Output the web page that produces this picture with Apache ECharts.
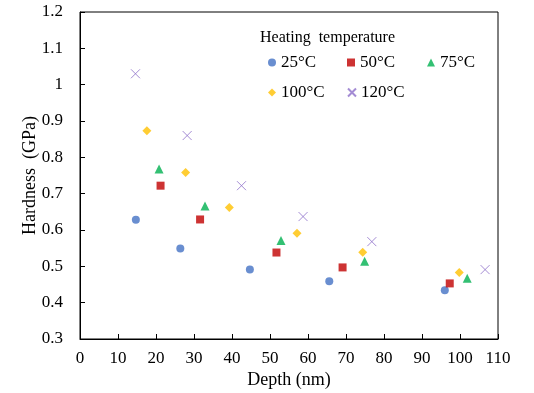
<!DOCTYPE html>
<html><head><meta charset="utf-8">
<script src="https://cdn.jsdelivr.net/npm/echarts@6/dist/echarts.min.js"></script>
<style>html,body{margin:0;padding:0;background:#fff}#c{width:534px;height:393px}</style>
</head><body><div id="c"></div>
<script>
const seriesNames = ['25°C', '50°C', '75°C', '100°C', '120°C'];
const d25 = [[14.7, 0.628], [26.4, 0.549], [44.7, 0.491], [65.6, 0.459], [96.0, 0.434]];
const d50 = [[21.2, 0.722], [31.6, 0.629], [51.7, 0.538], [69.1, 0.497], [97.3, 0.453]];
const d75 = [[20.8, 0.768], [32.9, 0.666], [52.9, 0.571], [74.9, 0.514], [101.9, 0.467]];
const d100 = [[17.6, 0.873], [27.8, 0.758], [39.3, 0.662], [57.1, 0.591], [74.4, 0.539], [99.8, 0.483]];
const d120 = [[14.6, 1.030], [28.2, 0.860], [42.5, 0.722], [58.7, 0.637], [76.8, 0.568], [106.6, 0.491]];

const font = 'Liberation Serif';
const crossPath = 'path://M0,0L10,10M10,0L0,10';
const chart = echarts.init(document.getElementById('c'));
function s(name, data, symbol, size, color, extra) {
  return Object.assign({
    name, type: 'scatter', data, symbol, symbolSize: size,
    itemStyle: { color }, emphasis: { disabled: true }
  }, extra || {});
}
const legendText = { fontFamily: font, fontSize: 17, color: '#000' };
const legendPos = [[268, 54], [347, 54], [427, 54], [268, 84], [347, 84]];
const legends = seriesNames.map((n, i) => ({
  data: [n], left: legendPos[i][0], top: legendPos[i][1], padding: 0,
  itemWidth: 8, itemHeight: 8, itemGap: 0, textStyle: legendText
}));
chart.setOption({
  animation: false,
  title: {
    text: 'Heating  temperature', left: 260, top: 30, padding: 0,
    textStyle: { fontFamily: font, fontSize: 16, fontWeight: 'normal', color: '#000' }
  },
  legend: legends,
  grid: { left: 80, right: 36, top: 12, bottom: 54, show: true, borderColor: '#000', borderWidth: 1,
    containLabel: false, outerBoundsMode: 'none' },
  xAxis: {
    type: 'value', min: 0, max: 110, interval: 10,
    name: 'Depth (nm)', nameLocation: 'middle', nameGap: 32, nameMoveOverlap: false,
    nameTextStyle: { fontFamily: font, fontSize: 18, color: '#000' },
    axisLine: { show: true, lineStyle: { color: '#000' } },
    axisTick: { show: true, inside: true, length: 5, lineStyle: { color: '#000' } },
    axisLabel: { fontFamily: font, fontSize: 17, color: '#000', margin: 11 },
    splitLine: { show: false }
  },
  yAxis: {
    type: 'value', min: 0.3, max: 1.2, interval: 0.1,
    name: 'Hardness  (GPa)', nameLocation: 'middle', nameGap: 41, nameMoveOverlap: false,
    nameTextStyle: { fontFamily: font, fontSize: 18, color: '#000' },
    axisLine: { show: true, lineStyle: { color: '#000' } },
    axisTick: { show: true, inside: true, length: 5, lineStyle: { color: '#000' } },
    axisLabel: { fontFamily: font, fontSize: 17, color: '#000', margin: 17,
      formatter: v => String(Math.round(v * 10) / 10) },
    splitLine: { show: false }
  },
  series: [
    s('25°C', d25, 'circle', 8, '#4472C4'),
    s('50°C', d50, 'rect', 8, '#C00000'),
    s('75°C', d75, 'triangle', 9, '#00B050'),
    s('100°C', d100, 'diamond', 9, '#FFC000'),
    s('120°C', d120, crossPath, 9, '#8D6FC9', { itemStyle: { color: 'rgba(0,0,0,0)', borderColor: '#8D6FC9', borderWidth: 1 } })
  ]
});
</script></body></html>
